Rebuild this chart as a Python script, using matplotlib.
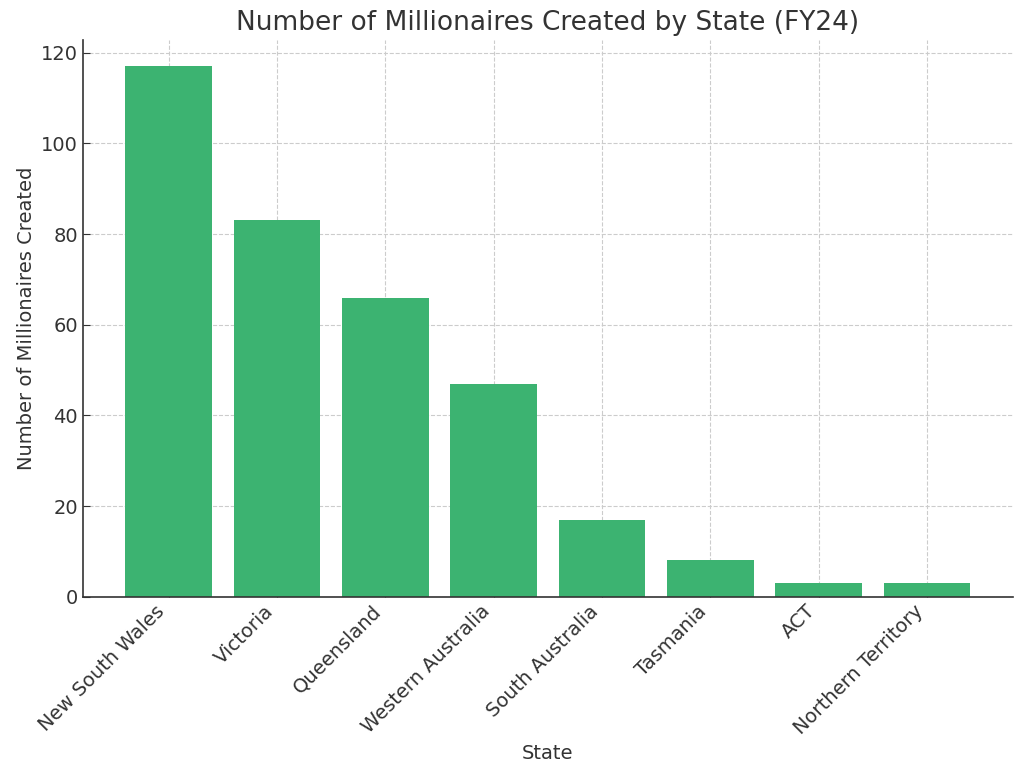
import matplotlib
matplotlib.use('Agg')
import matplotlib.pyplot as plt

states = ['New South Wales', 'Victoria', 'Queensland', 'Western Australia',
          'South Australia', 'Tasmania', 'ACT', 'Northern Territory']
millionaires = [117, 83, 66, 47, 17, 8, 3, 3]

text_color = '#333333'
bar_color = '#3CB371'


def plot_millionaires():
    fig = plt.figure(figsize=(10.24, 7.81), dpi=100)
    ax = fig.add_axes([0.081, 0.236, 0.908, 0.713])
    ax.bar(states, millionaires, color=bar_color, width=0.8, zorder=2)

    ax.set_title('Number of Millionaires Created by State (FY24)', fontsize=19, color=text_color, pad=7)
    ax.set_xlabel('State', fontsize=14, color=text_color)
    ax.set_ylabel('Number of Millionaires Created', fontsize=14, color=text_color)

    ax.grid(True, linestyle='--', color='#cccccc', linewidth=0.8, zorder=0)
    ax.set_axisbelow(True)
    for side in ['top', 'right']:
        ax.spines[side].set_visible(False)
    for side in ['left', 'bottom']:
        ax.spines[side].set_color(text_color)
        ax.spines[side].set_linewidth(1.2)

    ax.tick_params(direction='in', labelsize=14, colors=text_color, length=5)
    plt.setp(ax.get_xticklabels(), rotation=45, ha='right')

    fig.savefig('out.png', dpi=100)
    plt.close(fig)


if __name__ == '__main__':
    plot_millionaires()
